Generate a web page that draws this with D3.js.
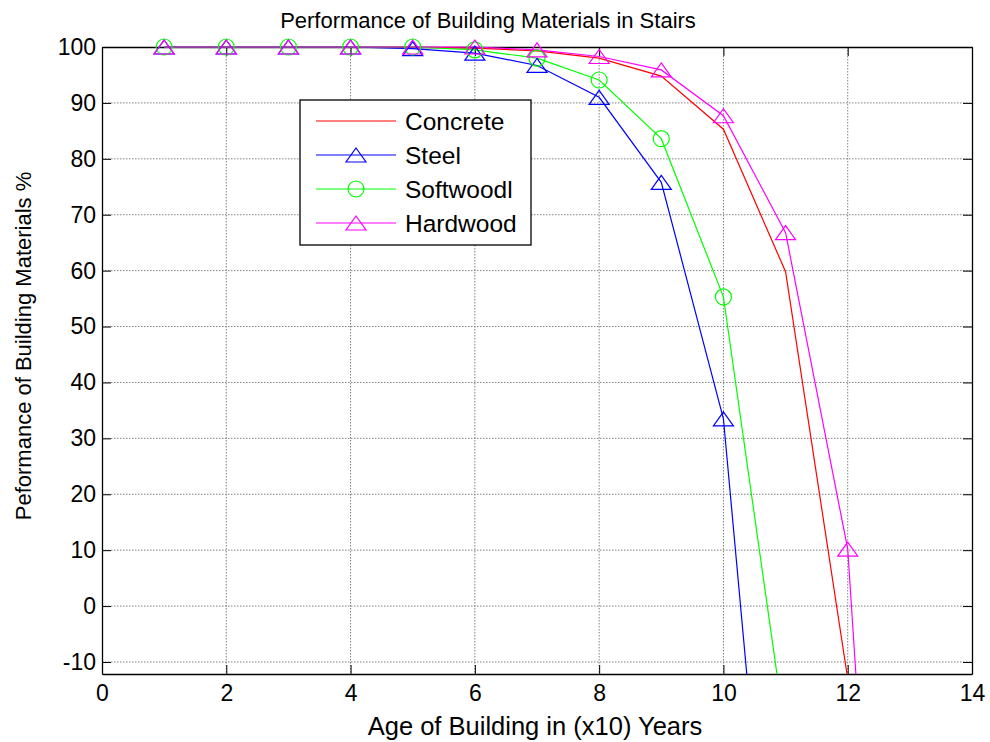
<!DOCTYPE html>
<html>
<head>
<meta charset="utf-8">
<script src="https://cdn.jsdelivr.net/npm/d3@7"></script>
<style>
  body { margin: 0; background: #fff; }
  svg { display: block; font-family: "Liberation Sans", Arial, sans-serif; }
</style>
</head>
<body>
<div id="chart"></div>
<script>
/* Data */
const ages = [1, 2, 3, 4, 5, 6, 7, 8, 9, 10, 11, 12, 13]
const concrete = [100, 100, 100, 100, 100, 99.8, 99.3, 98, 94.8, 85.3, 59.8, -13]
const steel = [100, 100, 100, 100, 99.7, 98.9, 96.7, 91, 75.8, 33.5, -88]
const softwood = [100, 100, 100, 100, 100, 99.5, 98, 94.1, 83.6, 55.3, -23]
const hardwood = [100, 100, 100, 100, 100, 100, 99.5, 98.3, 95.9, 87.7, 66.8, 10.2, -160]
const xTicks = [0, 2, 4, 6, 8, 10, 12, 14]
const yTicks = [-10, 0, 10, 20, 30, 40, 50, 60, 70, 80, 90, 100]

const series = [
  {name: 'Concrete', values: concrete, color: '#ff0000', marker: null},
  {name: 'Steel', values: steel, color: '#0000ff', marker: 'triangle'},
  {name: 'Softwoodl', values: softwood, color: '#00ff00', marker: 'circle'},
  {name: 'Hardwood', values: hardwood, color: '#ff00ff', marker: 'triangle'},
]

const W = 990, H = 742
const margin = {top: 47, right: 18, bottom: 68, left: 102}
const yMin = -12.15

const x = d3.scaleLinear().domain([0, 14]).range([margin.left, W - margin.right])
const y = d3.scaleLinear().domain([yMin, 100]).range([H - margin.bottom, margin.top])

const svg = d3.select('#chart').append('svg')
  .attr('width', W)
  .attr('height', H)

svg.append('defs').append('clipPath').attr('id', 'plot')
  .append('rect')
  .attr('x', x(0)).attr('y', y(100) - 1)
  .attr('width', x(14) - x(0)).attr('height', y(yMin) - y(100) + 1)

/* Grid */
const grid = svg.append('g').attr('class', 'grid')
  .attr('stroke', '#808080')
  .attr('stroke-dasharray', '1.5,1.5')
grid.selectAll('.gx').data(xTicks.slice(1, -1)).join('line')
  .attr('x1', d => x(d)).attr('x2', d => x(d))
  .attr('y1', y(100)).attr('y2', y(yMin))
grid.selectAll('.gy').data(yTicks.slice(0, -1)).join('line')
  .attr('y1', d => y(d)).attr('y2', d => y(d))
  .attr('x1', x(0)).attr('x2', x(14))

/* Axes, ticks inward like matlab */
const plain = d => String(d)
function styleAxis(g) {
  g.select('.domain').attr('stroke', '#000').attr('stroke-width', 1.3)
  g.selectAll('.tick line').attr('stroke', '#000')
  g.selectAll('.tick text').attr('fill', '#000').style('font-size', '23px')
}
svg.append('g').attr('transform', `translate(0,${y(yMin)})`)
  .call(d3.axisBottom(x).tickValues(xTicks).tickFormat(plain).tickSize(-9).tickPadding(11).tickSizeOuter(0))
  .call(styleAxis)
svg.append('g').attr('transform', `translate(${x(0)},0)`)
  .call(d3.axisLeft(y).tickValues(yTicks).tickFormat(plain).tickSize(-9).tickPadding(6).tickSizeOuter(0))
  .call(styleAxis)
svg.append('g').attr('transform', `translate(0,${y(100)})`)
  .call(d3.axisTop(x).tickValues(xTicks).tickSize(-9).tickFormat('').tickSizeOuter(0))
  .call(styleAxis)
svg.append('g').attr('transform', `translate(${x(14)},0)`)
  .call(d3.axisRight(y).tickValues(yTicks).tickSize(-9).tickFormat('').tickSizeOuter(0))
  .call(styleAxis)

/* Markers */
function triangle(cx, cy) {
  return `M${cx},${cy - 7}L${cx + 10},${cy + 7}L${cx - 10},${cy + 7}Z`
}
function drawMarker(g, kind, cx, cy, color) {
  if (kind === 'triangle') {
    g.append('path').attr('d', triangle(cx, cy))
      .attr('fill', 'none').attr('stroke', color).attr('stroke-width', 1.2)
  } else if (kind === 'circle') {
    g.append('circle').attr('cx', cx).attr('cy', cy).attr('r', 8)
      .attr('fill', 'none').attr('stroke', color).attr('stroke-width', 1.2)
  }
}

/* Lines clipped, markers only for points inside the axes */
const line = d3.line().x(d => x(d[0])).y(d => y(d[1]))
const plot = svg.append('g').attr('clip-path', 'url(#plot)')
const marks = svg.append('g')
series.forEach(s => {
  const pts = s.values.map((v, i) => [ages[i], v])
  plot.append('path').datum(pts)
    .attr('d', line)
    .attr('fill', 'none')
    .attr('stroke', s.color)
    .attr('stroke-width', 1.2)
  if (s.marker) {
    pts.filter(p => p[1] >= yMin && p[1] <= 100)
      .forEach(p => drawMarker(marks, s.marker, x(p[0]), y(p[1]), s.color))
  }
})

/* Legend */
const legend = svg.append('g').attr('transform', 'translate(300,100)')
legend.append('rect')
  .attr('width', 231).attr('height', 145)
  .attr('fill', '#fff').attr('stroke', '#000').attr('stroke-width', 1.3)
series.forEach((s, i) => {
  const ly = 21 + i * 34
  legend.append('line')
    .attr('x1', 16).attr('x2', 96).attr('y1', ly).attr('y2', ly)
    .attr('stroke', s.color).attr('stroke-width', 1.2)
  drawMarker(legend, s.marker, 56, ly, s.color)
  legend.append('text')
    .attr('x', 105).attr('y', ly).attr('dy', '0.36em')
    .style('font-size', '24.5px')
    .text(s.name)
})

/* Titles */
svg.append('text')
  .attr('x', 488).attr('y', 28)
  .attr('text-anchor', 'middle')
  .style('font-size', '22px')
  .text('Performance of Building Materials in Stairs')
svg.append('text')
  .attr('x', 535).attr('y', 735)
  .attr('text-anchor', 'middle')
  .style('font-size', '25.5px')
  .text('Age of Building in (x10) Years')
svg.append('text')
  .attr('transform', 'translate(31,346) rotate(-90)')
  .attr('text-anchor', 'middle')
  .style('font-size', '22px')
  .text('Peformance of Building Materials %')
</script>
</body>
</html>
